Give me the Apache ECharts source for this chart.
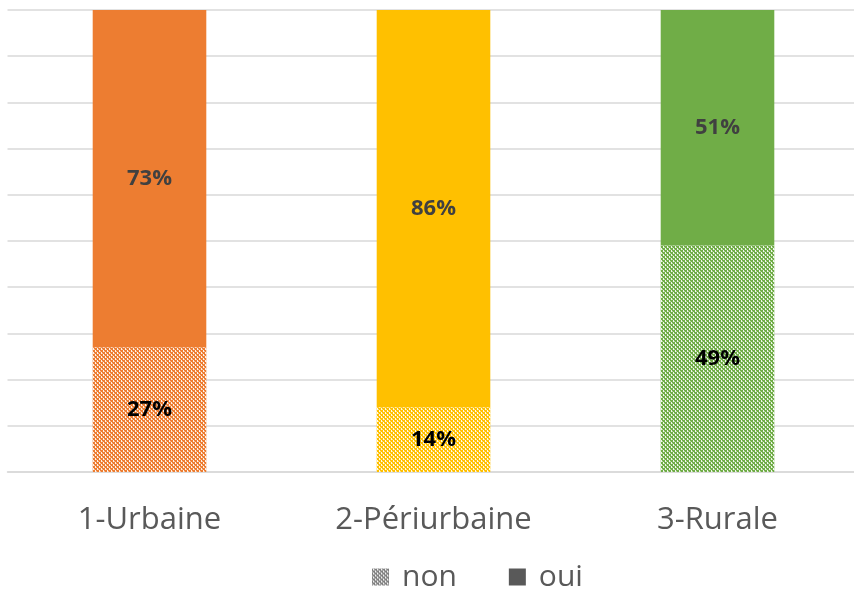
<!DOCTYPE html>
<html>
<head>
<meta charset="utf-8">
<script src="https://cdn.jsdelivr.net/npm/echarts@6/dist/echarts.min.js"></script>
<style>
  html, body { margin: 0; padding: 0; background: #fff; }
  #chart { width: 854px; height: 590px; }
</style>
</head>
<body>
<div id="chart"></div>
<script>
const categories = ["1-Urbaine", "2-Périurbaine", "3-Rurale"];
const nonValues = [27, 14, 49];
const ouiValues = [73, 86, 51];
const barColors = ["#ED7D31", "#FFC000", "#70AD47"];

// petit motif pointillé (couleur + tirets blancs verticaux)
function dotted(color) {
  const c = document.createElement("canvas");
  c.width = 4;
  c.height = 4;
  const ctx = c.getContext("2d");
  ctx.fillStyle = color;
  ctx.fillRect(0, 0, 4, 4);
  ctx.fillStyle = "rgba(255,255,255,0.9)";
  ctx.fillRect(1, 0, 1, 2);
  ctx.fillRect(3, 2, 1, 2);
  ctx.fillStyle = "rgba(255,255,255,0.5)";
  ctx.fillRect(0, 3, 1, 1);
  ctx.fillRect(2, 1, 1, 1);
  return { image: c, repeat: "repeat" };
}

const font = "'Open Sans', 'Noto Sans', sans-serif";

const chart = echarts.init(document.getElementById("chart"));
chart.setOption({
  animation: false,
  grid: { left: 7.5, width: 852, top: 10, bottom: 118, outerBoundsMode: "none" },
  xAxis: {
    type: "category",
    data: categories,
    axisTick: { show: false },
    axisLine: { lineStyle: { color: "#d9d9d9", width: 1.5 } },
    axisLabel: { color: "#595959", fontSize: 31, fontFamily: font, margin: 33 },
  },
  yAxis: {
    type: "value",
    min: 0,
    max: 100,
    interval: 10,
    axisLabel: { show: false },
    axisLine: { show: false },
    axisTick: { show: false },
    splitLine: { lineStyle: { color: "#d9d9d9", width: 1.5 } },
  },
  legend: {
    bottom: -7,
    left: 367,
    itemWidth: 17,
    itemHeight: 17,
    itemGap: 52,
    textStyle: { color: "#595959", fontSize: 30, fontFamily: font, padding: [0, 0, 0, 8] },
    data: [
      { name: "non", icon: "rect", itemStyle: { color: dotted("#7f7f7f") } },
      { name: "oui", icon: "rect", itemStyle: { color: "#595959" } },
    ],
  },
  series: [
    {
      name: "non",
      type: "bar",
      stack: "total",
      barWidth: "40%",
      data: nonValues.map((v, i) => ({ value: v, itemStyle: { color: dotted(barColors[i]) } })),
      label: {
        show: true,
        position: "inside",
        formatter: "{c}%",
        color: "#000",
        fontSize: 22,
        fontWeight: "bold",
        fontFamily: font,
      },
    },
    {
      name: "oui",
      type: "bar",
      stack: "total",
      barWidth: "40%",
      data: ouiValues.map((v, i) => ({ value: v, itemStyle: { color: barColors[i] } })),
      label: {
        show: true,
        position: "inside",
        formatter: "{c}%",
        color: "#404040",
        fontSize: 22,
        fontWeight: "bold",
        fontFamily: font,
      },
    },
  ],
});
</script>
</body>
</html>
